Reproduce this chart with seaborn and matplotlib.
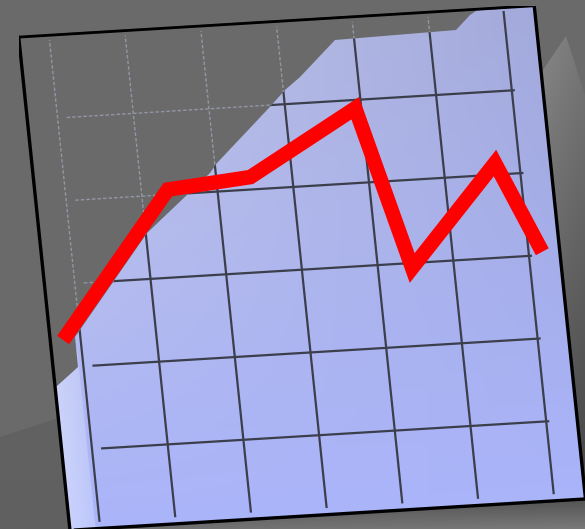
import numpy as np
import matplotlib
matplotlib.use("Agg")
import matplotlib.pyplot as plt
import matplotlib.colors as mcolors
from matplotlib.transforms import Affine2D
from matplotlib.patches import Polygon
import mpl_toolkits.axisartist.floating_axes as floating_axes
from mpl_toolkits.axisartist.grid_finder import FixedLocator
import seaborn as sns

# ---------------- data (grid units) ----------------
x_vals = [-0.23, 1.35, 2.45, 3.92, 4.45, 5.68, 6.18]
y_vals = [1.33, 3.06, 3.15, 3.90, 1.94, 3.14, 2.04]
x_grid = [0, 1, 2, 3, 4, 5, 6]
y_grid = [0, 1, 2, 3, 4, 5]
x_extent = (-0.40, 6.41)
y_extent = (-0.96, 5.00)

W, H = 585, 529
BG = '#6a6a6a'
GRID = '#3b3e4b'

sns.set_style('white')
fig = plt.figure(figsize=(W / 100, H / 100), dpi=100)
fig.patch.set_facecolor(BG)

# image-pixel coordinates (y down) -> figure
pix = Affine2D().scale(1 / W, -1 / H).translate(0, 1) + fig.transFigure

# tilted projection of grid units onto pixel coords (y up)
tr = Affine2D(np.array([[75.7, -8.6, 92.0],
                        [4.6, 82.75, 80.0],
                        [0.0, 0.0, 1.0]]))


def uv_to_img(pts):
    p = tr.transform(np.asarray(pts, dtype=float))
    return np.column_stack([p[:, 0], H - p[:, 1]])


corners_uv = [[x_extent[0], y_extent[0]], [x_extent[1], y_extent[0]],
              [x_extent[1], y_extent[1]], [x_extent[0], y_extent[1]]]
corners_px = tr.transform(np.array(corners_uv))
xmin, ymin = corners_px.min(axis=0)
xmax, ymax = corners_px.max(axis=0)
panel_img = uv_to_img(corners_uv)
strip_img = uv_to_img([[x_extent[0], y_extent[0]], [-0.06, y_extent[0]],
                       [-0.06, 1.2], [x_extent[0], 1.2]])

# ---------------- background ----------------
bg = fig.add_axes([0, 0, 1, 1])
bg.axis('off')


def grad_fill(axis, verts, c00, c10, c01, c11, zorder):
    verts = np.asarray(verts, dtype=float)
    x0, y0 = verts.min(0)
    x1, y1 = verts.max(0)
    s = np.linspace(0, 1, 96)
    S, T = np.meshgrid(s, s)
    S = S[..., None]
    T = T[..., None]
    c = [np.array(mcolors.to_rgb(k)) for k in (c00, c10, c01, c11)]
    img = ((1 - S) * (1 - T) * c[0] + S * (1 - T) * c[1]
           + (1 - S) * T * c[2] + S * T * c[3])
    im = axis.imshow(img, extent=(x0, x1, y1, y0), origin='upper',
                     interpolation='bilinear', aspect='auto', zorder=zorder)
    poly = Polygon(verts, closed=True, transform=axis.transData,
                   facecolor='none', edgecolor='none')
    axis.add_patch(poly)
    im.set_clip_path(poly)
    return im


# right-side wedge and floor shading
grad_fill(bg, [(543, 70), (566, 36), (585, 95), (585, 529), (560, 529)],
          '#868686', '#767676', '#4a4a4a', '#444444', 1)
grad_fill(bg, [(30, 529), (585, 488), (585, 529)],
          '#4a4a4a', '#444444', '#6e6e6e', '#7a7a7a', 1)
grad_fill(bg, [(0, 437), (58, 418), (75, 529), (0, 529)],
          '#626262', '#626262', '#606060', '#606060', 1)
# panel gradient
grad_fill(bg, panel_img, '#c4c8e6', '#a0a7da', '#aab4f8', '#aab5fc', 2)
# lighter bevel strip along the lower-left edge
grad_fill(bg, strip_img, '#ccd3fb', '#b9c1f0', '#d4dcff', '#bcc6fb', 2.5)
bg.set_xlim(0, W)
bg.set_ylim(H, 0)

# ---------------- tilted chart ----------------
gh = floating_axes.GridHelperCurveLinear(
    tr, extremes=(x_extent[0], x_extent[1], y_extent[0], y_extent[1]),
    grid_locator1=FixedLocator(x_grid), grid_locator2=FixedLocator(y_grid))
ax = fig.add_axes([xmin / W, ymin / H, (xmax - xmin) / W, (ymax - ymin) / H],
                  axes_class=floating_axes.FloatingAxes, grid_helper=gh)
ax.set_aspect('auto')
ax.set_xlim(xmin, xmax)
ax.set_ylim(ymin, ymax)
ax.patch.set_facecolor('none')
ax.grid(False)
for side in ['left', 'right', 'top', 'bottom']:
    a = ax.axis[side]
    a.major_ticklabels.set_visible(False)
    a.major_ticks.set_visible(False)
    a.line.set_color('black')
    a.line.set_linewidth(2.4 if side != 'top' else 2.0)
    a.set_zorder(6)

aux = ax.get_aux_axes(tr)

# grid lines
aux.vlines(x_grid, y_extent[0] + 0.08, y_extent[1] - 0.04,
           colors=GRID, linewidth=1.6, zorder=2)
aux.hlines(y_grid, 0.12, 6.04, colors=GRID, linewidth=1.6, zorder=2)

# grey shadow over the upper-left of the panel
shadow_img = [(0, 0), (482, 0), (476, 11), (470, 15), (456, 30), (335, 40),
              (300, 77), (285, 90), (267, 110), (217, 163), (210, 173),
              (147, 233), (75, 337), (78, 367), (57, 386), (0, 392)]
shadow = Polygon(shadow_img, closed=True, transform=pix, facecolor=BG,
                 edgecolor='none', zorder=3)
ax.add_artist(shadow)
shadow.set_clip_path(ax.patch)

# faint dashed grid seen through the shadow
v2 = aux.vlines(x_grid, y_extent[0] + 0.08, y_extent[1] - 0.06,
                colors='#9297a4', linewidth=1.0, linestyles=(0, (2.5, 1.5)),
                zorder=3.5)
h2 = aux.hlines(y_grid, 0.12, 6.04, colors='#9297a4', linewidth=1.0,
                linestyles=(0, (2.5, 1.5)), zorder=3.5)
v2.set_clip_path(shadow)
h2.set_clip_path(shadow)

# red line
sns.lineplot(x=x_vals, y=y_vals, ax=aux, color='#ff0000', linewidth=10.5,
             sort=False, zorder=4)
for ln in aux.get_lines():
    ln.set_solid_joinstyle('miter')
    ln.set_solid_capstyle('butt')
    ln.set_clip_on(False)
    ln.set_zorder(4)

fig.savefig('out.png', dpi=100, facecolor=BG)
